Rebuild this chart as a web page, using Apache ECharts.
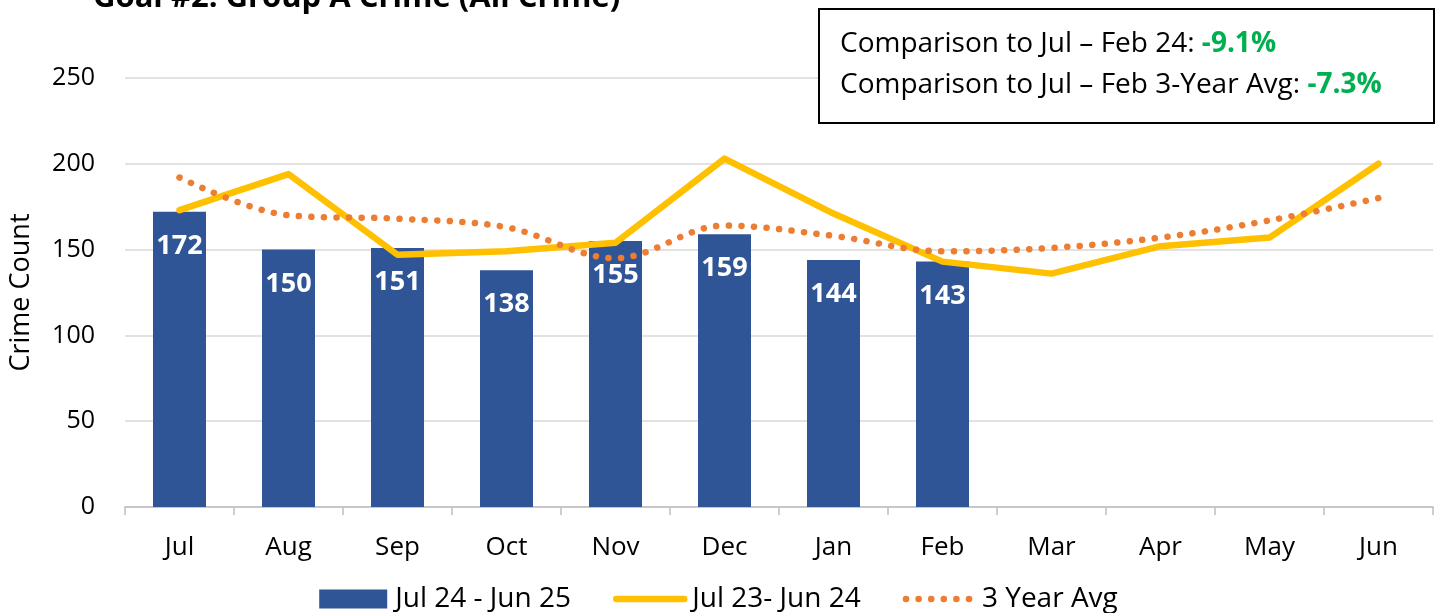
<!DOCTYPE html>
<html><head><meta charset="utf-8">
<script src="https://cdn.jsdelivr.net/npm/echarts@6/dist/echarts.min.js"></script>
<style>html,body{margin:0;padding:0;background:#fff}#c{width:1437px;height:613px}</style>
</head><body><div id="c"></div>
<script>
const categories = ['Jul','Aug','Sep','Oct','Nov','Dec','Jan','Feb','Mar','Apr','May','Jun'];
const current = [172,150,151,138,155,159,144,143];
const prior = [173,194,147,149,154,203,171,143,136,152,157,200];
const avg3 = [192,170,168,163,145,164,158,149,151,157,167,180];
const yTicks = [0,50,100,150,200,250];
const seriesNames = ['Jul 24 - Jun 25','Jul 23- Jun 24','3 Year Avg'];
const boxLines = [['Comparison to Jul \u2013 Feb 24: ','-9.1%'],['Comparison to Jul \u2013 Feb 3-Year Avg: ','-7.3%']];
const F = '"Open Sans", sans-serif';
const hide = {color:'rgba(0,0,0,0)',borderWidth:0,borderColor:'rgba(0,0,0,0)'};
const chart = echarts.init(document.getElementById('c'));
chart.setOption({
  animation:false,
  textStyle:{fontFamily:F},
  title:{text:'Goal #2: Group A Crime (All Crime)', left:88, top:-22, textStyle:{fontFamily:F,fontSize:31,fontWeight:'bold',color:'#000'}},
  grid:{left:125,right:4,top:78,bottom:106},
  legend:{left:'center',top:580,itemWidth:68,itemHeight:19,itemGap:42,
    textStyle:{fontFamily:F,fontSize:28,color:'#000',padding:[0,0,0,3]},
    data:[{name:seriesNames[0],icon:'rect'},
          {name:seriesNames[1],itemStyle:hide,lineStyle:{width:6.5,color:'#FFC000',cap:'round'}},
          {name:seriesNames[2],itemStyle:hide,lineStyle:{width:6.5,color:'#ED7D31',type:[0.1,12.5],cap:'round'}}]},
  xAxis:{type:'category',data:categories,
    axisLine:{lineStyle:{color:'#bfbfbf',width:1.5}},
    axisTick:{show:true,length:8,lineStyle:{color:'#bfbfbf',width:1.5}},
    axisLabel:{fontFamily:F,fontSize:26,color:'#000',margin:28}},
  yAxis:{type:'value',min:0,max:250,interval:50,
    name:'Crime Count',nameLocation:'middle',nameGap:90,
    nameTextStyle:{fontFamily:F,fontSize:27,color:'#000'},
    axisLabel:{fontFamily:F,fontSize:25,color:'#000',margin:30,formatter:v=>yTicks.includes(v)?String(v):''},
    splitLine:{lineStyle:{color:'#d9d9d9',width:1.5}},
    axisLine:{show:false},axisTick:{show:false}},
  series:[
    {name:seriesNames[0],type:'bar',data:current,barWidth:53,
     itemStyle:{color:'#2F5597'},
     label:{show:true,position:'insideTop',distance:21,color:'#fff',fontFamily:F,fontSize:27,fontWeight:'bold'},z:2},
    {name:seriesNames[1],type:'line',data:prior,symbol:'none',
     lineStyle:{color:'#FFC000',width:6.5,cap:'round',join:'round'},itemStyle:{color:'#FFC000'},z:3},
    {name:seriesNames[2],type:'line',data:avg3,symbol:'none',smooth:0.35,
     lineStyle:{color:'#ED7D31',width:6.5,type:[0.1,12.5],cap:'round'},itemStyle:{color:'#ED7D31'},z:3}
  ],
  graphic:[
    {type:'rect',shape:{x:819,y:9,width:615,height:114},style:{fill:'#fff',stroke:'#000',lineWidth:2},z:10},
    {type:'text',x:840,y:44,z:11,style:{text:'{a|'+boxLines[0][0]+'}{b|'+boxLines[0][1]+'}',verticalAlign:'middle',
      rich:{a:{fontFamily:F,fontSize:28,fill:'#000'},b:{fontFamily:F,fontSize:28,fontWeight:'bold',fill:'#00B050'}}}},
    {type:'text',x:840,y:85,z:11,style:{text:'{a|'+boxLines[1][0]+'}{b|'+boxLines[1][1]+'}',verticalAlign:'middle',
      rich:{a:{fontFamily:F,fontSize:28,fill:'#000'},b:{fontFamily:F,fontSize:28,fontWeight:'bold',fill:'#00B050'}}}}
  ]
});
</script></body></html>
